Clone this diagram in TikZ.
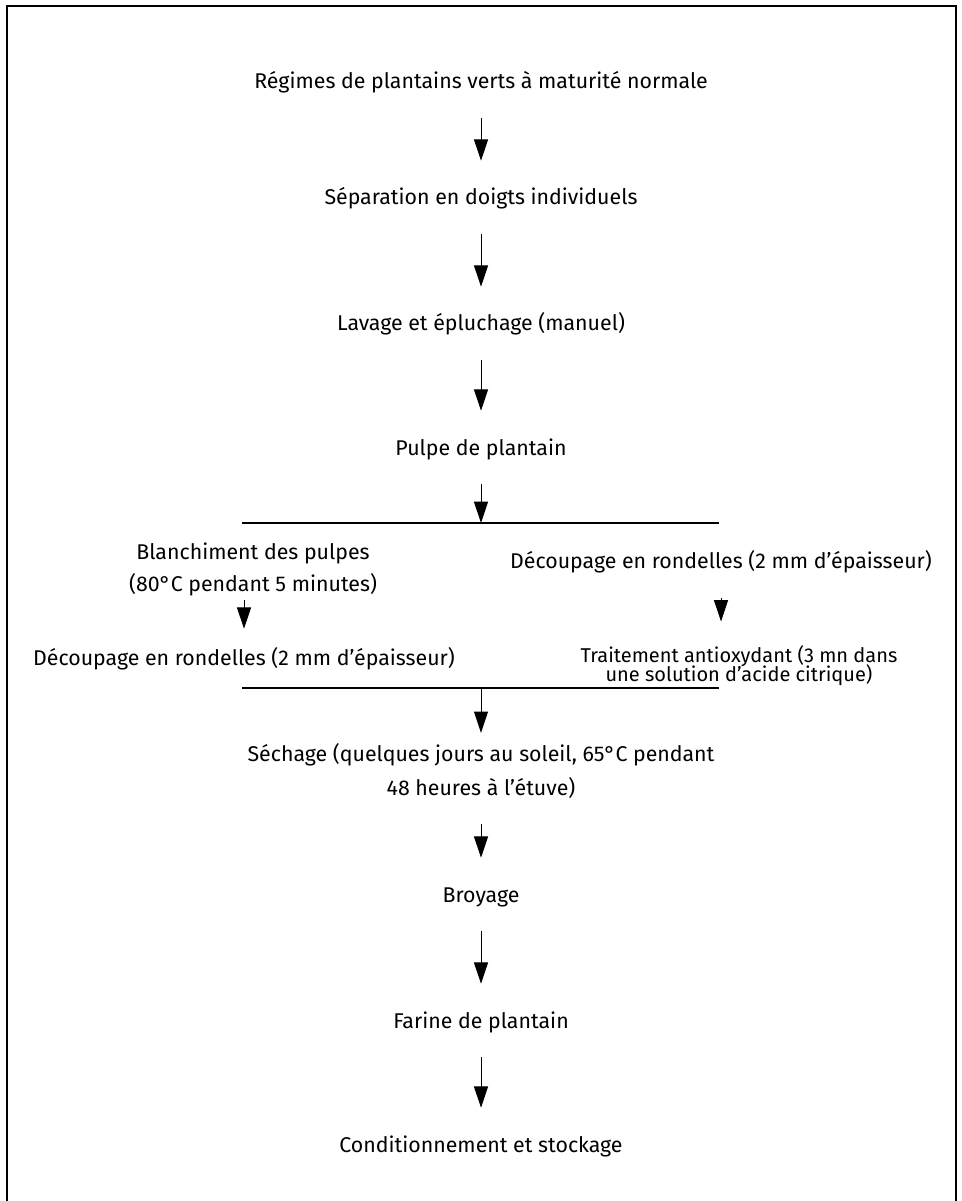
\documentclass[tikz,border=0pt]{standalone}
\usepackage{fontspec}
\setmainfont{Fira Sans}
\usetikzlibrary{positioning,arrows.meta,calc}

\newcommand{\stagefont}{\fontsize{16}{24.5}\selectfont}
\newcommand{\tightfont}{\fontsize{15}{14.5}\selectfont\lineskiplimit-100pt\relax}

\begin{document}
\begin{tikzpicture}[x=0.75pt,y=-0.75pt,
    stage/.style={inner sep=0pt,font=\stagefont,text height=12pt,text depth=4.5pt},
    block/.style={inner sep=0pt,font=\stagefont,align=center},
    flow/.style={-{Triangle[length=16pt,width=10.5pt]},line width=0.75pt,shorten <=17pt,shorten >=21pt},
    bar/.style={line width=1.1pt},
    frame/.style={line width=1.5pt}]
  \useasboundingbox (0,0) rectangle (962,1201);
  \draw[frame] (7,1201) -- (7,6) -- (956,6) -- (956,1201);

  % main column
  \node[stage] (reg)    at (481,84)   {Régimes de plantains verts à maturité normale};
  \node[stage] (sep)    at (481,200)  {Séparation en doigts individuels};
  \node[stage] (lav)    at (481,326)  {Lavage et épluchage (manuel)};
  \node[stage] (pulpe)  at (481,450)  {Pulpe de plantain};
  \coordinate (j1) at (481,523);
  \coordinate (j1l) at (242,523);
  \coordinate (j1r) at (719,523);

  % two branches
  \node[block,font=\fontsize{16}{24}\selectfont] (blanch) at (253,569) {Blanchiment des pulpes\\(80°C pendant 5 minutes)};
  \node[stage] (decL)   at (244,660) {Découpage en rondelles (2 mm d’épaisseur)};
  \node[stage] (decR)   at (721,563) {Découpage en rondelles (2 mm d’épaisseur)};
  \node[block,font=\tightfont] (trait) at (739,666)
    {Traitement antioxydant (3 mn dans\\une solution d’acide citrique)};
  \coordinate (j2) at (481,688);
  \coordinate (j2l) at (242,688);
  \coordinate (j2r) at (719,688);

  \node[block,font=\fontsize{16}{25}\selectfont] (sech) at (481,771) {Séchage (quelques jours au soleil, 65°C pendant\\48 heures à l’étuve)};
  \node[stage] (broy)   at (481,897)  {Broyage};
  \node[stage] (farine) at (481,1023) {Farine de plantain};
  \node[stage] (cond)   at (481,1147) {Conditionnement et stockage};

  \foreach \a/\b in {reg/sep,sep/lav,lav/pulpe,broy/farine,farine/cond}
    \draw[flow] (\a) -- (\b);
  \draw[flow,shorten >=0pt] (pulpe) -- (j1);
  \draw[bar] (j1l) -- (j1r);
  \draw[flow,shorten <=3pt,shorten >=15pt] (decL |- blanch.south) -- (decL);
  \draw[flow,shorten <=18pt,shorten >=18pt] (decR) -- (decR |- trait.north);
  \draw[bar] (j2l) -- (j2r);
  \draw[flow,shorten <=0pt,shorten >=8pt] (j2) -- (sech);
  \draw[flow,shorten <=19pt] (sech) -- (broy);
\end{tikzpicture}
\end{document}
